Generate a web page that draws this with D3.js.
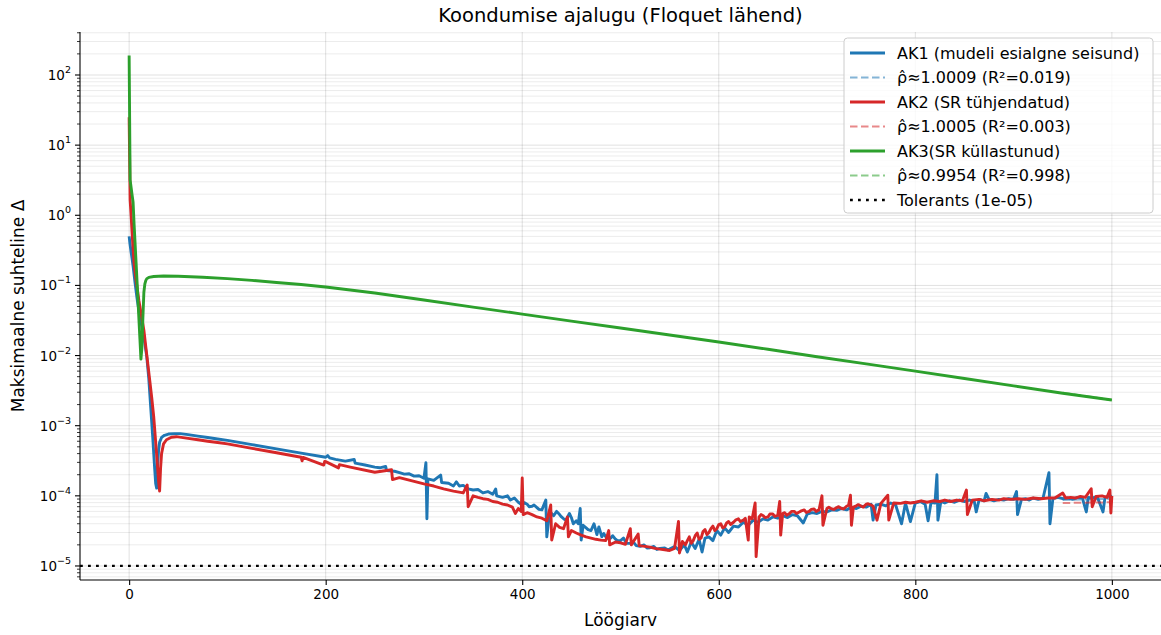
<!DOCTYPE html>
<html><head><meta charset="utf-8">
<script src="https://cdn.jsdelivr.net/npm/d3@7"></script>
<style>body{margin:0;background:#fff;} text{font-family:"DejaVu Sans",sans-serif;fill:#000;}</style>
</head><body><svg id="c" width="1161" height="635"></svg>
<script>
const titleText = "Koondumise ajalugu (Floquet lähend)";
const xLabelText = "Löögiarv";
const yLabelText = "Maksimaalne suhteline Δ";
const xTicks = [0, 200, 400, 600, 800, 1000];
const yTickExps = [-5, -4, -3, -2, -1, 0, 1, 2];
const legendLabels = [
  "AK1 (mudeli esialgne seisund)",
  "ρ̂≈1.0009 (R²=0.019)",
  "AK2 (SR tühjendatud)",
  "ρ̂≈1.0005 (R²=0.003)",
  "AK3(SR küllastunud)",
  "ρ̂≈0.9954 (R²=0.998)",
  "Tolerants (1e-05)"
];
const tolerance = 1e-5;
const fitIters = [950, 1000];
const ak1Fit = [8.7e-5, 9.1e-5];
const ak2Fit = [7.9e-5, 8.1e-5];
const ak3Fit = [2.95e-3, 2.32e-3];

const ak1 = [[0,0.5],[1,0.38],[2,0.3],[3,0.24],[4,0.19],[6,0.11],[8,0.066],[10,0.043],[12,0.03],[14,0.022],[16,0.0148],[18,0.0095],[20,0.0047],[22,0.0018],[24,6.9e-4],[26,2.45e-4],[27,1.5e-4],[28,1.29e-4],[29,2.8e-4],[30,4.5e-4],[31,5.8e-4],[33,6.8e-4],[36,7.3e-4],[40,7.6e-4],[46,7.7e-4],[52,7.7e-4],[60,7.46e-4],[70,7.11e-4],[80,6.78e-4],[90,6.46e-4],[100,6.17e-4],[125,5.37e-4],[150,4.68e-4],[175,4.07e-4],[200,3.55e-4],[202,3.75e-4],[204,3.48e-4],[210,3.31e-4],[220,3.13e-4],[229,3.3e-4],[230,2.92e-4],[240,2.75e-4],[250,2.57e-4],[255,2.51e-4],[261,2.63e-4],[262,2.29e-4],[270,2.24e-4],[276,2.12e-4],[280,2.04e-4],[285,2.06e-4],[290,1.91e-4],[295,1.93e-4],[300,1.78e-4],[302,2.97e-4],[303,4.7e-5],[304,1.74e-4],[310,1.66e-4],[317,1.98e-4],[318,1.55e-4],[325,1.51e-4],[330,1.38e-4],[333,1.58e-4],[336,1.38e-4],[340,1.41e-4],[345,1.26e-4],[350,1.21e-4],[355,1.23e-4],[360,1.1e-4],[365,1.15e-4],[370,1.05e-4],[373,1.25e-4],[374,1.0e-4],[380,9.5e-5],[385,1.0e-4],[388,8.7e-5],[392,9.3e-5],[396,8.1e-5],[400,7.4e-5],[402,8.0e-5],[405,7.6e-5],[407,7.0e-5],[410,7.1e-5],[412,7.4e-5],[415,6.8e-5],[417,6.4e-5],[420,6.3e-5],[424,8.7e-5],[425,2.6e-5],[428,6.0e-5],[432,5.2e-5],[435,6.0e-5],[438,5.4e-5],[440,5.0e-5],[443,4.6e-5],[445,4.6e-5],[448,5.6e-5],[450,4.9e-5],[452,4.0e-5],[455,4.4e-5],[457,4.0e-5],[459,6.6e-5],[460,2.34e-5],[462,3.8e-5],[465,3.5e-5],[467,3.3e-5],[470,3.2e-5],[473,4.0e-5],[476,2.8e-5],[478,3.6e-5],[481,2.6e-5],[483,2.9e-5],[485,2.6e-5],[488,2.45e-5],[490,2.5e-5],[492,2.7e-5],[495,2.4e-5],[497,2.3e-5],[500,2.3e-5],[503,2.5e-5],[506,2.1e-5],[510,2.1e-5],[513,2.2e-5],[516,1.95e-5],[520,1.9e-5],[524,2.0e-5],[527,1.8e-5],[530,1.82e-5],[534,1.9e-5],[537,1.72e-5],[540,1.78e-5],[545,1.8e-5],[548,1.7e-5],[550,1.74e-5],[555,1.9e-5],[560,1.66e-5],[565,2.0e-5],[568,1.58e-5],[572,2.2e-5],[576,1.78e-5],[580,2.4e-5],[583,1.58e-5],[586,2.5e-5],[590,2.6e-5],[594,2.3e-5],[598,3.2e-5],[602,2.75e-5],[606,3.5e-5],[610,3.0e-5],[615,3.7e-5],[620,3.6e-5],[625,4.2e-5],[630,3.8e-5],[635,4.5e-5],[640,4.2e-5],[645,4.7e-5],[650,4.5e-5],[655,5.0e-5],[660,4.8e-5],[665,5.2e-5],[670,4.9e-5],[675,5.4e-5],[680,5.2e-5],[686,4.1e-5],[690,5.5e-5],[695,5.75e-5],[700,5.6e-5],[705,6.0e-5],[710,5.9e-5],[715,6.3e-5],[720,6.2e-5],[725,6.6e-5],[730,6.3e-5],[735,6.9e-5],[740,6.6e-5],[745,7.1e-5],[750,6.9e-5],[755,7.6e-5],[757,4.5e-5],[760,7.4e-5],[765,7.6e-5],[770,7.2e-5],[775,7.9e-5],[780,7.4e-5],[786,4.0e-5],[790,7.9e-5],[795,4.3e-5],[800,7.9e-5],[805,8.3e-5],[810,7.6e-5],[813,4.4e-5],[816,8.1e-5],[820,7.9e-5],[822,2.0e-4],[823,4.5e-5],[826,8.3e-5],[830,7.9e-5],[835,8.5e-5],[840,8.1e-5],[845,8.7e-5],[850,8.3e-5],[855,8.7e-5],[860,8.3e-5],[862,5.9e-5],[865,8.9e-5],[870,8.5e-5],[872,1.08e-4],[875,8.9e-5],[880,8.5e-5],[885,8.9e-5],[890,8.7e-5],[895,9.1e-5],[900,8.9e-5],[903,1.15e-4],[904,5.4e-5],[908,8.9e-5],[912,9.1e-5],[916,8.7e-5],[920,9.3e-5],[925,8.9e-5],[930,9.3e-5],[936,2.14e-4],[937,4.0e-5],[940,9.1e-5],[945,9.5e-5],[950,9.1e-5],[955,9.3e-5],[960,8.9e-5],[965,9.5e-5],[970,9.3e-5],[974,5.9e-5],[976,9.5e-5],[980,9.3e-5],[985,9.8e-5],[991,5.9e-5],[993,9.5e-5],[997,1.0e-4],[1000,9.8e-5]];

const ak2 = [[0,25],[1,1.66],[2,1.0],[3,0.56],[4,0.34],[5,0.21],[7,0.12],[10,0.06],[13,0.034],[15,0.023],[17,0.0132],[19,0.0076],[21,0.0044],[23,0.0025],[25,0.00135],[27,5.9e-4],[29,2.5e-4],[30,1.6e-4],[31,1.17e-4],[32,2.5e-4],[33,4.0e-4],[35,5.5e-4],[38,6.3e-4],[43,6.84e-4],[48,6.97e-4],[60,6.6e-4],[70,6.3e-4],[80,6.0e-4],[90,5.75e-4],[100,5.5e-4],[125,4.75e-4],[150,4.11e-4],[175,3.55e-4],[176,3.16e-4],[177,3.53e-4],[198,2.75e-4],[199,3.1e-4],[200,3.07e-4],[213,2.5e-4],[214,2.78e-4],[225,2.57e-4],[250,2.17e-4],[267,2.35e-4],[268,1.7e-4],[275,1.82e-4],[285,1.67e-4],[300,1.48e-4],[310,1.38e-4],[320,1.26e-4],[330,1.17e-4],[340,1.1e-4],[344,1.43e-4],[345,7.0e-5],[350,1.0e-4],[355,9.5e-5],[360,9.1e-5],[365,8.9e-5],[370,8.3e-5],[375,8.1e-5],[380,7.6e-5],[385,7.4e-5],[390,6.9e-5],[393,5.6e-5],[396,6.6e-5],[399,6.0e-5],[400,1.8e-4],[401,5.4e-5],[405,5.75e-5],[410,5.4e-5],[415,5.0e-5],[420,4.8e-5],[425,4.4e-5],[429,7.4e-5],[430,2.34e-5],[434,4.0e-5],[438,3.55e-5],[442,3.4e-5],[446,5.0e-5],[447,2.6e-5],[450,3.2e-5],[455,2.95e-5],[460,2.75e-5],[465,2.6e-5],[470,2.5e-5],[475,2.4e-5],[480,2.34e-5],[485,2.3e-5],[488,3.2e-5],[489,2.0e-5],[495,2.2e-5],[500,2.14e-5],[505,2.04e-5],[510,3.4e-5],[511,2.0e-5],[518,2.85e-5],[519,1.95e-5],[525,1.9e-5],[530,1.86e-5],[535,1.78e-5],[540,1.74e-5],[545,1.7e-5],[550,1.66e-5],[555,1.78e-5],[559,4.3e-5],[560,1.53e-5],[563,2.24e-5],[566,2.0e-5],[568,2.3e-5],[570,2.6e-5],[572,2.1e-5],[574,2.3e-5],[576,2.7e-5],[578,2.95e-5],[580,2.4e-5],[582,2.5e-5],[584,3.1e-5],[586,3.3e-5],[588,2.8e-5],[590,3.0e-5],[592,3.4e-5],[594,3.7e-5],[596,3.2e-5],[598,3.4e-5],[600,3.9e-5],[602,4.0e-5],[604,3.5e-5],[606,3.6e-5],[608,4.1e-5],[610,4.3e-5],[612,3.9e-5],[615,4.2e-5],[617,4.5e-5],[620,4.7e-5],[622,4.3e-5],[625,4.5e-5],[627,4.8e-5],[630,2.34e-5],[631,5.0e-5],[634,4.7e-5],[637,7.9e-5],[638,1.36e-5],[641,5.0e-5],[643,5.4e-5],[645,5.25e-5],[647,4.9e-5],[650,5.0e-5],[652,5.5e-5],[655,5.5e-5],[657,5.1e-5],[660,5.25e-5],[662,8.3e-5],[663,2.75e-5],[665,5.6e-5],[667,5.75e-5],[669,5.3e-5],[672,5.6e-5],[674,6.0e-5],[677,6.0e-5],[679,5.6e-5],[682,5.9e-5],[684,6.1e-5],[687,6.3e-5],[689,5.8e-5],[692,6.0e-5],[694,6.4e-5],[697,6.5e-5],[699,6.0e-5],[702,6.3e-5],[705,1.0e-4],[706,3.8e-5],[710,6.6e-5],[712,6.9e-5],[715,6.5e-5],[717,6.4e-5],[720,6.8e-5],[722,7.0e-5],[725,6.6e-5],[727,6.5e-5],[730,7.1e-5],[732,7.3e-5],[734,1.02e-4],[735,3.8e-5],[737,6.9e-5],[740,7.2e-5],[742,7.5e-5],[745,7.1e-5],[747,6.9e-5],[750,7.6e-5],[752,7.7e-5],[755,7.4e-5],[757,7.1e-5],[761,4.5e-5],[765,7.8e-5],[772,1.02e-4],[773,4.5e-5],[778,7.9e-5],[785,7.8e-5],[790,8.1e-5],[795,7.9e-5],[800,8.1e-5],[806,8.5e-5],[812,8.1e-5],[818,8.5e-5],[825,8.3e-5],[830,8.7e-5],[836,8.3e-5],[842,8.7e-5],[848,8.5e-5],[852,1.21e-4],[853,5.4e-5],[858,8.7e-5],[865,8.9e-5],[870,8.5e-5],[878,8.9e-5],[885,8.7e-5],[890,9.1e-5],[897,8.9e-5],[905,9.1e-5],[912,8.9e-5],[920,9.3e-5],[928,9.1e-5],[935,9.3e-5],[942,9.3e-5],[950,1.1e-4],[953,9.3e-5],[958,9.5e-5],[963,9.3e-5],[968,9.8e-5],[973,9.5e-5],[979,1.26e-4],[980,7.0e-5],[984,9.8e-5],[990,1.0e-4],[995,9.5e-5],[998,1.21e-4],[999,5.7e-5],[1000,1.0e-4]];

const ak3 = [[0,190],[1,3.2],[2,2.5],[3,1.95],[4,1.55],[5,0.76],[6,0.41],[7,0.22],[8,0.117],[9,0.062],[10,0.032],[11,0.017],[12,0.0089],[13,0.013],[14,0.035],[15,0.08],[16,0.105],[17,0.118],[18,0.125],[20,0.13],[25,0.134],[35,0.136],[50,0.135],[75,0.131],[100,0.125],[125,0.118],[150,0.11],[175,0.103],[200,0.095],[250,0.078],[300,0.062],[350,0.049],[400,0.039],[450,0.031],[500,0.0247],[550,0.0196],[600,0.0156],[650,0.0123],[700,0.0096],[750,0.0076],[800,0.006],[850,0.0047],[900,0.0037],[950,0.0029],[1000,0.00232]];

const colors = {ak1:"#1f77b4", ak2:"#d62728", ak3:"#2ca02c"};

const m = {l:80, r:1161, t:32, b:580};
const svg = d3.select("#c");
const x = d3.scaleLinear().domain([-50, 1050]).range([m.l, m.r]);
const y = d3.scaleLog().domain([Math.pow(10,-5.2), Math.pow(10,2.613)]).range([m.b, m.t]);

svg.append("defs").append("clipPath").attr("id","clip").append("rect")
  .attr("x", m.l).attr("y", m.t).attr("width", m.r - m.l).attr("height", m.b - m.t);

// grid
const gGrid = svg.append("g");
const minorVals = [];
for (let e = -6; e <= 2; e++) for (let k = 2; k <= 9; k++) {
  const v = k * Math.pow(10, e);
  if (v >= y.domain()[0] && v <= y.domain()[1]) minorVals.push(v);
}
gGrid.selectAll(".gmin").data(minorVals).enter().append("line")
  .attr("x1", m.l).attr("x2", m.r).attr("y1", d => y(d)).attr("y2", d => y(d))
  .attr("stroke", "#000").attr("stroke-opacity", 0.09).attr("stroke-width", 0.9);
gGrid.selectAll(".gmaj").data(yTickExps).enter().append("line")
  .attr("x1", m.l).attr("x2", m.r).attr("y1", d => y(Math.pow(10,d))).attr("y2", d => y(Math.pow(10,d)))
  .attr("stroke", "#000").attr("stroke-opacity", 0.12).attr("stroke-width", 1);
gGrid.selectAll(".gx").data(xTicks).enter().append("line")
  .attr("x1", d => x(d)).attr("x2", d => x(d)).attr("y1", m.t).attr("y2", m.b)
  .attr("stroke", "#000").attr("stroke-opacity", 0.12).attr("stroke-width", 1);

// lines
const line = d3.line().x(d => x(d[0])).y(d => y(d[1]));
const plot = svg.append("g").attr("clip-path", "url(#clip)");
const byIter = arr => arr.slice().sort((a, b) => a[0] - b[0]);
function solid(data, c) {
  plot.append("path").datum(byIter(data)).attr("d", line).attr("fill","none")
    .attr("stroke", c).attr("stroke-width", 2.9).attr("stroke-linejoin","round").attr("stroke-linecap","butt");
}
function fit(vals, c) {
  plot.append("path").datum(fitIters.map((it,i)=>[it, vals[i]])).attr("d", line).attr("fill","none")
    .attr("stroke", c).attr("stroke-opacity", 0.55).attr("stroke-width", 2).attr("stroke-dasharray","7.5,3.5");
}
solid(ak1, colors.ak1); fit(ak1Fit, colors.ak1);
solid(ak2, colors.ak2); fit(ak2Fit, colors.ak2);
solid(ak3, colors.ak3); fit(ak3Fit, colors.ak3);
plot.append("line").attr("x1", m.l).attr("x2", m.r).attr("y1", y(tolerance)).attr("y2", y(tolerance))
  .attr("stroke","#000").attr("stroke-width",2.3).attr("stroke-dasharray","2.8,5.2");

// axes
const ax = svg.append("g").attr("transform", `translate(0,${m.b})`)
  .call(d3.axisBottom(x).tickValues(xTicks).tickSize(5).tickPadding(4).tickFormat(d3.format("d")));
ax.select(".domain").remove();
ax.selectAll(".tick line").attr("stroke","#000").attr("stroke-width",1.1);
ax.selectAll(".tick text").attr("font-size", 13.5).attr("font-family", "DejaVu Sans");

const ay = svg.append("g").attr("transform", `translate(${m.l},0)`);
ay.selectAll(".minor").data(minorVals).enter().append("line")
  .attr("x1", -3).attr("x2", 0).attr("y1", d => y(d)).attr("y2", d => y(d))
  .attr("stroke","#000").attr("stroke-width",0.8);
ay.selectAll(".major").data(yTickExps).enter().append("line")
  .attr("x1", -5).attr("x2", 0).attr("y1", d => y(Math.pow(10,d))).attr("y2", d => y(Math.pow(10,d)))
  .attr("stroke","#000").attr("stroke-width",1.1);
const ylab = ay.selectAll(".lab").data(yTickExps).enter().append("text")
  .attr("x", -9).attr("y", d => y(Math.pow(10,d)) + 5).attr("text-anchor","end").attr("font-size", 13.5);
ylab.append("tspan").text("10");
ylab.append("tspan").attr("dy", -7).attr("font-size", 9.5).text(d => (d < 0 ? "−" + (-d) : "" + d));

// spines
svg.append("line").attr("x1", m.l).attr("x2", m.l).attr("y1", m.t).attr("y2", m.b).attr("stroke","#000").attr("stroke-width",1.1);
svg.append("line").attr("x1", m.l).attr("x2", m.r).attr("y1", m.b).attr("y2", m.b).attr("stroke","#000").attr("stroke-width",1.1);

// labels
svg.append("text").attr("x", (m.l + m.r)/2).attr("y", 22).attr("text-anchor","middle").attr("font-size", 19.5).text(titleText);
svg.append("text").attr("x", (m.l + m.r)/2).attr("y", 626).attr("text-anchor","middle").attr("font-size", 17).text(xLabelText);
svg.append("text").attr("transform", `translate(24,${(m.t+m.b)/2}) rotate(-90)`).attr("text-anchor","middle").attr("font-size", 17).text(yLabelText);

// legend
const lg = svg.append("g");
lg.append("rect").attr("x", 844).attr("y", 38).attr("width", 309).attr("height", 175).attr("rx", 3.5)
  .attr("fill","#fff").attr("fill-opacity",0.8).attr("stroke","#ccc").attr("stroke-width",1);
const handles = [
  {c: colors.ak1, type:"solid"}, {c: colors.ak1, type:"fit"},
  {c: colors.ak2, type:"solid"}, {c: colors.ak2, type:"fit"},
  {c: colors.ak3, type:"solid"}, {c: colors.ak3, type:"fit"},
  {c: "#000", type:"tol"}
];
legendLabels.forEach((lab, i) => {
  const cy = 53 + i * 24.5;
  const h = handles[i];
  const l = lg.append("line").attr("x1", 850).attr("x2", 885).attr("y1", cy).attr("y2", cy).attr("stroke", h.c);
  if (h.type === "solid") l.attr("stroke-width", 2.9);
  else if (h.type === "fit") l.attr("stroke-width", 2).attr("stroke-opacity",0.55).attr("stroke-dasharray","7.5,3.5");
  else l.attr("stroke-width", 2.3).attr("stroke-dasharray","2.8,5.2");
  lg.append("text").attr("x", 897).attr("y", cy + 5.5).attr("font-size", 16).text(lab);
});
</script></body></html>
